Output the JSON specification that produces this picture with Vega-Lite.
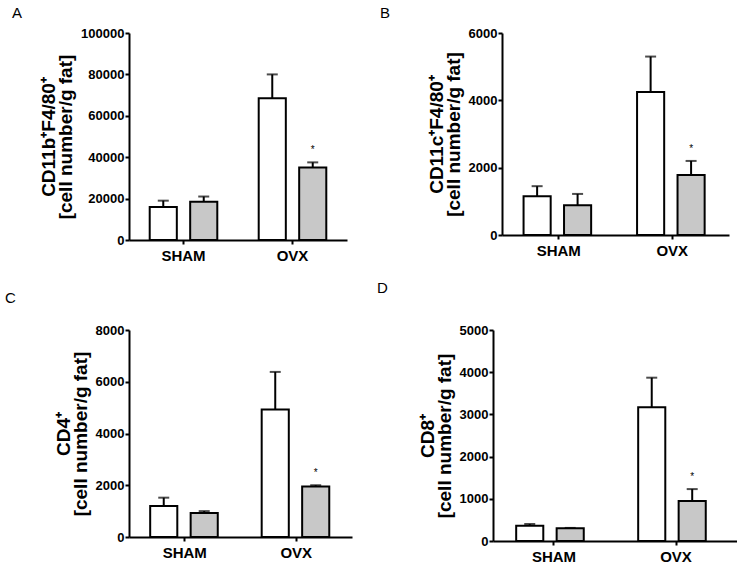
{
  "$schema": "https://vega.github.io/schema/vega-lite/v6.json",
  "padding": {"left": 5, "top": 6, "right": 0, "bottom": 0},
  "background": "white",
  "datasets": {
    "cells": [
      {"panel": "A", "group": "SHAM", "treat": "control", "mean": 16000, "upper": 19000, "star": false},
      {"panel": "A", "group": "SHAM", "treat": "treated", "mean": 18500, "upper": 21000, "star": false},
      {"panel": "A", "group": "OVX", "treat": "control", "mean": 68500, "upper": 80000, "star": false},
      {"panel": "A", "group": "OVX", "treat": "treated", "mean": 35000, "upper": 37500, "star": true},
      {"panel": "B", "group": "SHAM", "treat": "control", "mean": 1150, "upper": 1450, "star": false},
      {"panel": "B", "group": "SHAM", "treat": "treated", "mean": 880, "upper": 1220, "star": false},
      {"panel": "B", "group": "OVX", "treat": "control", "mean": 4250, "upper": 5300, "star": false},
      {"panel": "B", "group": "OVX", "treat": "treated", "mean": 1780, "upper": 2200, "star": true},
      {"panel": "C", "group": "SHAM", "treat": "control", "mean": 1200, "upper": 1520, "star": false},
      {"panel": "C", "group": "SHAM", "treat": "treated", "mean": 930, "upper": 1000, "star": false},
      {"panel": "C", "group": "OVX", "treat": "control", "mean": 4930, "upper": 6380, "star": false},
      {"panel": "C", "group": "OVX", "treat": "treated", "mean": 1950, "upper": 2000, "star": true},
      {"panel": "D", "group": "SHAM", "treat": "control", "mean": 360, "upper": 400, "star": false},
      {"panel": "D", "group": "SHAM", "treat": "treated", "mean": 300, "upper": 310, "star": false},
      {"panel": "D", "group": "OVX", "treat": "control", "mean": 3170, "upper": 3870, "star": false},
      {"panel": "D", "group": "OVX", "treat": "treated", "mean": 950, "upper": 1230, "star": true}
    ]
  },
  "config": {
    "font": "Liberation Sans",
    "view": {"stroke": null},
    "axis": {
      "grid": false,
      "domainColor": "black",
      "domainWidth": 2,
      "tickColor": "black",
      "tickWidth": 2,
      "tickSize": 4,
      "labelColor": "black",
      "labelFont": "Liberation Sans, Arial",
      "labelFontWeight": "bold",
      "titleColor": "black",
      "titleFont": "Liberation Sans, Arial",
      "titleFontWeight": "bold"
    },
    "axisX": {"labelFontSize": 15, "labelAngle": 0, "labelPadding": 4, "title": null},
    "axisY": {"labelFontSize": 13, "labelPadding": 1, "titleFontSize": 19, "titleLineHeight": 17, "titlePadding": 5},
    "title": {"anchor": "start", "frame": "group", "fontSize": 15, "fontWeight": "normal", "font": "Liberation Sans, Arial", "color": "black"}
  },
  "vconcat": [
    {
      "bounds": "flush",
      "spacing": 155,
      "hconcat": [
        {
          "title": {"text": "A", "dx": -117, "offset": 6},
          "width": 218, "height": 207,
          "data": {"name": "cells"},
          "transform": [{"filter": "datum.panel === 'A'"}],
          "encoding": {
            "x": {"field": "group", "type": "nominal", "sort": ["SHAM", "OVX"], "scale": {"paddingInner": 0.38, "paddingOuter": 0.19}},
            "xOffset": {"field": "treat", "type": "nominal", "scale": {"paddingInner": 0.33}}
          },
          "layer": [
            {"mark": {"type": "bar", "stroke": "black", "strokeWidth": 2},
             "encoding": {
               "y": {"field": "mean", "type": "quantitative", "scale": {"domain": [0, 100000], "nice": false},
                     "axis": {"values": [0, 20000, 40000, 60000, 80000, 100000], "format": "d"},
                     "title": ["CD11b⁺F4/80⁺", "[cell number/g fat]"]},
               "fill": {"field": "treat", "type": "nominal", "scale": {"domain": ["control", "treated"], "range": ["white", "#c8c8c8"]}, "legend": null}
             }},
            {"mark": {"type": "rule", "color": "black", "strokeWidth": 2},
             "encoding": {"y": {"field": "mean", "type": "quantitative"}, "y2": {"field": "upper"}}},
            {"mark": {"type": "tick", "color": "black", "thickness": 2, "size": 11, "orient": "horizontal"},
             "encoding": {"y": {"field": "upper", "type": "quantitative"}}},
            {"transform": [{"filter": "datum.star"}],
             "mark": {"type": "text", "text": "*", "fontSize": 10, "dy": -12, "baseline": "middle", "color": "black"},
             "encoding": {"y": {"field": "upper", "type": "quantitative"}}}
          ]
        },
        {
          "title": {"text": "B", "dx": -122, "offset": 6},
          "width": 227, "height": 202,
          "data": {"name": "cells"},
          "transform": [{"filter": "datum.panel === 'B'"}],
          "encoding": {
            "x": {"field": "group", "type": "nominal", "sort": ["SHAM", "OVX"], "scale": {"paddingInner": 0.38, "paddingOuter": 0.19}},
            "xOffset": {"field": "treat", "type": "nominal", "scale": {"paddingInner": 0.33}}
          },
          "layer": [
            {"mark": {"type": "bar", "stroke": "black", "strokeWidth": 2},
             "encoding": {
               "y": {"field": "mean", "type": "quantitative", "scale": {"domain": [0, 6000], "nice": false},
                     "axis": {"values": [0, 2000, 4000, 6000], "format": "d"},
                     "title": ["CD11c⁺F4/80⁺", "[cell number/g fat]"]},
               "fill": {"field": "treat", "type": "nominal", "scale": {"domain": ["control", "treated"], "range": ["white", "#c8c8c8"]}, "legend": null}
             }},
            {"mark": {"type": "rule", "color": "black", "strokeWidth": 2},
             "encoding": {"y": {"field": "mean", "type": "quantitative"}, "y2": {"field": "upper"}}},
            {"mark": {"type": "tick", "color": "black", "thickness": 2, "size": 11, "orient": "horizontal"},
             "encoding": {"y": {"field": "upper", "type": "quantitative"}}},
            {"transform": [{"filter": "datum.star"}],
             "mark": {"type": "text", "text": "*", "fontSize": 10, "dy": -12, "baseline": "middle", "color": "black"},
             "encoding": {"y": {"field": "upper", "type": "quantitative"}}}
          ]
        }
      ]
    },
    {
      "bounds": "flush",
      "spacing": 141,
      "hconcat": [
        {
          "title": {"text": "C", "dx": -124, "offset": 18},
          "width": 223, "height": 207,
          "data": {"name": "cells"},
          "transform": [{"filter": "datum.panel === 'C'"}],
          "encoding": {
            "x": {"field": "group", "type": "nominal", "sort": ["SHAM", "OVX"], "scale": {"paddingInner": 0.38, "paddingOuter": 0.19}},
            "xOffset": {"field": "treat", "type": "nominal", "scale": {"paddingInner": 0.33}}
          },
          "layer": [
            {"mark": {"type": "bar", "stroke": "black", "strokeWidth": 2},
             "encoding": {
               "y": {"field": "mean", "type": "quantitative", "scale": {"domain": [0, 8000], "nice": false},
                     "axis": {"values": [0, 2000, 4000, 6000, 8000], "format": "d"},
                     "title": ["CD4⁺", "[cell number/g fat]"]},
               "fill": {"field": "treat", "type": "nominal", "scale": {"domain": ["control", "treated"], "range": ["white", "#c8c8c8"]}, "legend": null}
             }},
            {"mark": {"type": "rule", "color": "black", "strokeWidth": 2},
             "encoding": {"y": {"field": "mean", "type": "quantitative"}, "y2": {"field": "upper"}}},
            {"mark": {"type": "tick", "color": "black", "thickness": 2, "size": 11, "orient": "horizontal"},
             "encoding": {"y": {"field": "upper", "type": "quantitative"}}},
            {"transform": [{"filter": "datum.star"}],
             "mark": {"type": "text", "text": "*", "fontSize": 10, "dy": -12, "baseline": "middle", "color": "black"},
             "encoding": {"y": {"field": "upper", "type": "quantitative"}}}
          ]
        },
        {
          "title": {"text": "D", "dx": -116, "offset": 28},
          "width": 244, "height": 211,
          "data": {"name": "cells"},
          "transform": [{"filter": "datum.panel === 'D'"}],
          "encoding": {
            "x": {"field": "group", "type": "nominal", "sort": ["SHAM", "OVX"], "scale": {"paddingInner": 0.38, "paddingOuter": 0.19}},
            "xOffset": {"field": "treat", "type": "nominal", "scale": {"paddingInner": 0.33}}
          },
          "layer": [
            {"mark": {"type": "bar", "stroke": "black", "strokeWidth": 2},
             "encoding": {
               "y": {"field": "mean", "type": "quantitative", "scale": {"domain": [0, 5000], "nice": false},
                     "axis": {"values": [0, 1000, 2000, 3000, 4000, 5000], "format": "d"},
                     "title": ["CD8⁺", "[cell number/g fat]"]},
               "fill": {"field": "treat", "type": "nominal", "scale": {"domain": ["control", "treated"], "range": ["white", "#c8c8c8"]}, "legend": null}
             }},
            {"mark": {"type": "rule", "color": "black", "strokeWidth": 2},
             "encoding": {"y": {"field": "mean", "type": "quantitative"}, "y2": {"field": "upper"}}},
            {"mark": {"type": "tick", "color": "black", "thickness": 2, "size": 11, "orient": "horizontal"},
             "encoding": {"y": {"field": "upper", "type": "quantitative"}}},
            {"transform": [{"filter": "datum.star"}],
             "mark": {"type": "text", "text": "*", "fontSize": 10, "dy": -12, "baseline": "middle", "color": "black"},
             "encoding": {"y": {"field": "upper", "type": "quantitative"}}}
          ]
        }
      ]
    }
  ],
  "spacing": 18
}
